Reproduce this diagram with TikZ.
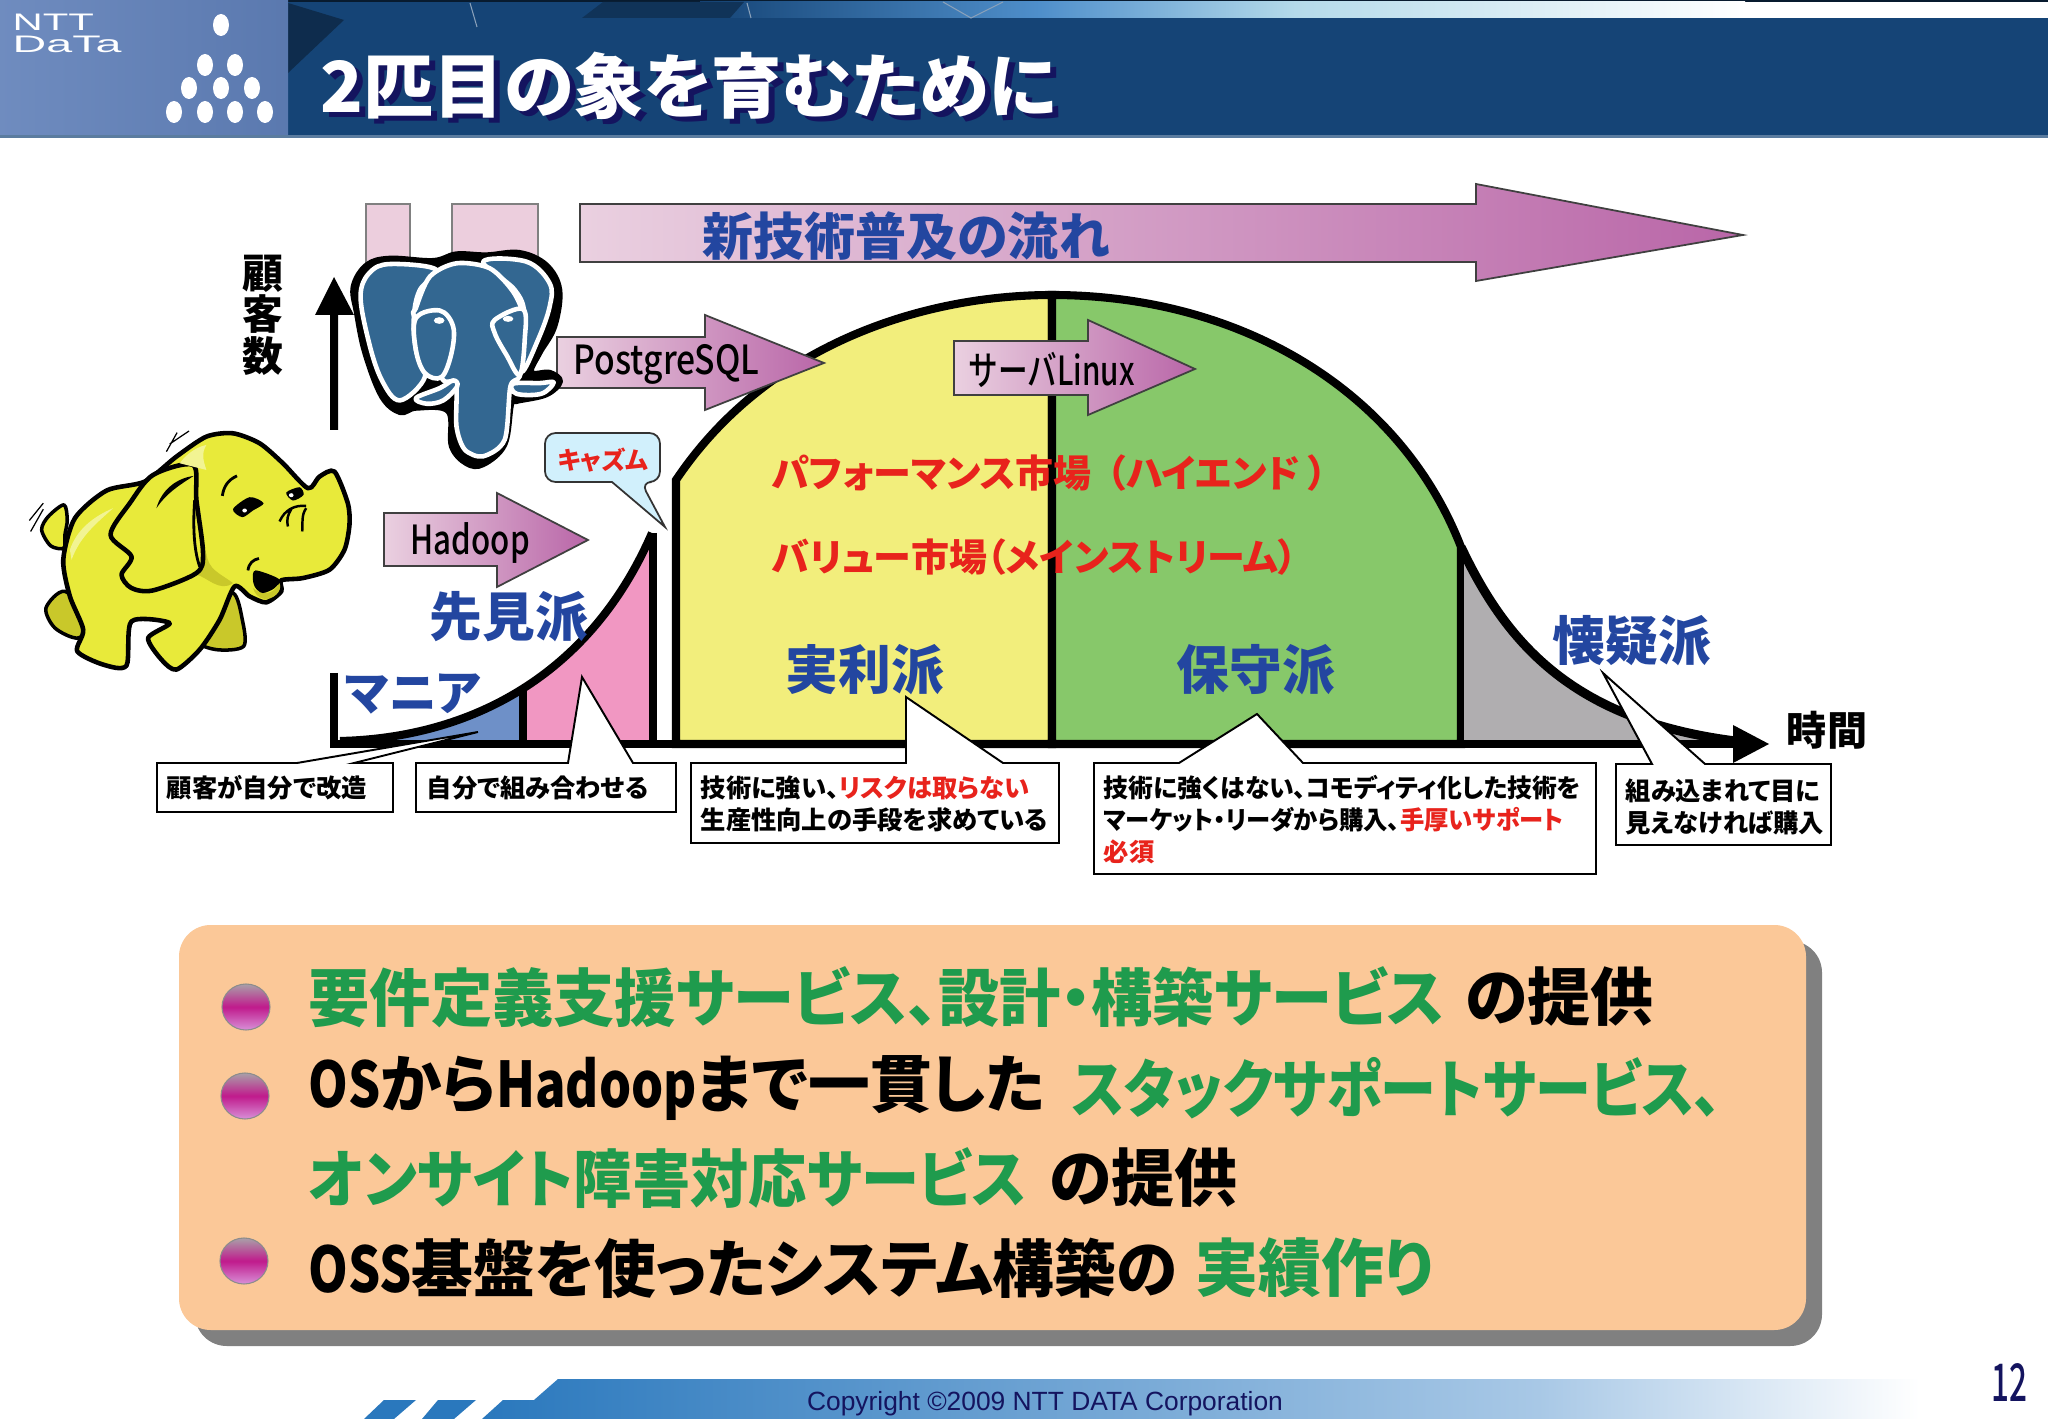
\documentclass[tikz,border=0pt]{standalone}
\usepackage{fontspec}
\setmainfont{Noto Sans CJK JP}[BoldFont={Noto Sans CJK JP Black},RawFeature=+palt]
\newfontfamily\latc{Noto Sans CJK JP Medium}[FakeStretch=0.84]
\newfontfamily\latb{Noto Sans CJK JP}[FakeStretch=0.82,BoldFont={Noto Sans CJK JP Black}]
\newfontfamily\arial{Liberation Sans}
\newcommand{\fsz}[1]{\fontsize{#1}{#1}\selectfont}
\definecolor{hdrblue}{HTML}{154476}
\definecolor{logoblue}{HTML}{5F7FB8}
\definecolor{navy}{HTML}{14145F}
\definecolor{labblue}{HTML}{2346A0}
\definecolor{redtxt}{HTML}{E8231C}
\definecolor{gtxt}{HTML}{1F9B4D}
\definecolor{pinkl}{HTML}{EAD0E0}
\definecolor{pinkd}{HTML}{B966A8}
\definecolor{yel}{HTML}{F2EE7C}
\definecolor{grn}{HTML}{87C86A}
\definecolor{gry}{HTML}{B0AEB0}
\definecolor{pnk}{HTML}{F197C2}
\definecolor{blu}{HTML}{6E90C8}
\definecolor{hyel}{HTML}{E8EA3A}
\definecolor{holive}{HTML}{C9C82A}
\definecolor{pgblue}{HTML}{336791}
\definecolor{orng}{HTML}{FBC898}
\definecolor{stripa}{HTML}{4F8FCB}
\definecolor{stripb}{HTML}{B4DAEA}
\definecolor{foota}{HTML}{2A78BD}
\definecolor{footb}{HTML}{A8C8E6}
\definecolor{balltop}{HTML}{A9A0A8}
\definecolor{ballmid}{HTML}{C01A8C}
\definecolor{ballbot}{HTML}{D890D8}
\tikzset{
	flowarrow/.style={draw=black!75,line width=0.5pt,left color=pinkl,right color=pinkd},
	region/.style={draw=black,line width=2.3pt,line join=miter},
	callout/.style={draw=black,fill=white,line width=0.55pt},
	calltext/.style={inner sep=0pt,anchor=north west,align=left,font=\bfseries\fontsize{7.2}{9.1}\selectfont},
	grouplabel/.style={inner sep=0pt,text=labblue,font=\bfseries\fsz{15}},
	markettext/.style={inner sep=0pt,anchor=west,text=redtxt,font=\bfseries\fsz{10.8}},
	itemtext/.style={inner sep=0pt,anchor=west,font=\bfseries\fsz{17.9}},
	bulletball/.style={top color=balltop,bottom color=ballbot,middle color=ballmid,draw=black!45,line width=0.3pt},
	logodot/.style={fill=white,draw=none},
	helepen/.style={draw=black,line width=1pt,line join=round},
	pgpen/.style={fill=pgblue,draw=white,line width=1.3pt,line join=round}
}
\begin{document}
\begin{tikzpicture}[x=0.01cm,y=-0.01cm]
	\useasboundingbox (0,0) rectangle (2048,1419);
	\fill[white] (0,0) rectangle (2048,1419);
	\fill[hdrblue] (0,0) rectangle (2048,137);
	\fill[black!60!hdrblue] (0,0) rectangle (2048,2);
	\fill[hdrblue!70!white] (0,135) rectangle (2048,138);
	\shade[left color=hdrblue,right color=stripa] (700,2) rectangle (1040,18);
	\shade[left color=stripa,right color=stripb] (1040,2) rectangle (1295,18);
	\shade[left color=stripb,right color=white] (1295,2) rectangle (1745,18);
	\fill[white] (1745,2) rectangle (2048,18);
	\fill[black!35!hdrblue] (288,3) -- (344,20) -- (288,73) -- cycle;
	\fill[black!25!hdrblue] (582,18) -- (603,2) -- (744,2) -- (730,18) -- cycle;
	\draw[white!50!hdrblue,line width=0.3pt] (470,3) -- (477,27) (747,3) -- (751,18) (943,2) -- (971,18) -- (1003,2);
	\shade[left color=logoblue!90!white,right color=logoblue!95!black] (0,0) rectangle (288,135);
	\node[inner sep=0pt,anchor=west,text=white] (logont) at (12,22) {\arial\fsz{6.8}\scalebox{1.75}[1]{NTT}};
	\node[inner sep=0pt,anchor=west,text=white] (logoda) at (12,44) {\arial\fsz{6.8}\scalebox{1.95}[1]{DaTa}};
	\foreach \dx/\dy in {221/25,205/65,235/65,189/88,221/88,252/88,174/112,205/112,235/112,265/112}
		\fill[logodot] (\dx,\dy) ellipse (8 and 11);
	\node[inner sep=0pt,anchor=west,text=navy,font=\bfseries\fsz{20}] (titleshade) at (326,91) {2匹目の象を育むために};
	\node[inner sep=0pt,anchor=west,text=white,font=\bfseries\fsz{20}] (titlet) at (320,86) {2匹目の象を育むために};

	\fill[pinkl!90!pink,draw=black!50,line width=0.3pt] (366,204) rectangle (410,262);
	\fill[pinkl!90!pink,draw=black!50,line width=0.3pt] (452,204) rectangle (538,262);
	\draw[flowarrow] (580,204) -- (1476,204) -- (1476,184) -- (1743,235) -- (1476,281) -- (1476,262) -- (580,262) -- cycle;
	\node[inner sep=0pt,text=labblue,font=\bfseries\fsz{14.5}] (flowt) at (906,236) {新技術普及の流れ};

	\node[inner sep=0pt,align=center,font=\bfseries\fontsize{11.6}{11.8}\selectfont] (yaxist) at (263,315) {顧\\客\\数};
	\fill[black] (334,277) -- (315,315) -- (330,315) -- (330,430) -- (338,430) -- (338,315) -- (354,315) -- cycle;

	\fill[blu] (340,741) .. controls (470,738) and (590,676) .. (652,533) -- (652,744) -- cycle;
	\fill[pnk] (523,687) .. controls (570,660) and (620,610) .. (652,533) -- (652,744) -- (523,744) -- cycle;
	\draw[black,line width=2.3pt] (340,741) .. controls (470,738) and (590,676) .. (652,533);
	\draw[black,line width=2.3pt] (334,673) -- (334,744);
	\draw[black,line width=2.3pt] (523,687) -- (523,744);
	\draw[black,line width=2.3pt] (653,533) -- (653,744);
	\draw[region,fill=yel] (676,744) -- (676,480) .. controls (770,340) and (930,295) .. (1052,295) -- (1052,744) -- cycle;
	\draw[region,fill=grn] (1052,744) -- (1052,295) .. controls (1240,295) and (1400,390) .. (1461,547) -- (1461,744) -- cycle;
	\fill[gry] (1461,547) .. controls (1505,640) and (1570,720) .. (1735,741) -- (1735,744) -- (1461,744) -- cycle;
	\draw[black,line width=1.8pt] (1461,547) -- (1461,744);
	\draw[black,line width=2.6pt] (1461,547) .. controls (1505,640) and (1570,720) .. (1735,741);
	\draw[black,line width=2.3pt] (330,744) -- (1740,744);
	\fill[black] (1733,725) -- (1769,744) -- (1733,763) -- cycle;

	\draw[flowarrow] (557,337) -- (705,337) -- (705,315) -- (824,363) -- (705,410) -- (705,388) -- (557,388) -- cycle;
	\node[inner sep=0pt,anchor=west,font=\latc\fsz{11.4}] (pgt) at (573,364) {PostgreSQL};
	\draw[flowarrow] (954,341) -- (1088,341) -- (1088,320) -- (1195,369) -- (1088,415) -- (1088,395) -- (954,395) -- cycle;
	\node[inner sep=0pt,anchor=west,font=\latc\fsz{11.4}] (linuxt) at (968,370) {\scalebox{0.88}[1]{サーバLinux}};
	\draw[flowarrow] (384,513) -- (497,513) -- (497,493) -- (588,540) -- (497,587) -- (497,566) -- (384,566) -- cycle;
	\node[inner sep=0pt,anchor=west,font=\latc\fsz{11.4}] (hadt) at (410,543) {\scalebox{0.93}[1]{Hadoop}};

	\draw[fill=cyan!18!white,draw=black!80,line width=0.5pt,rounded corners=3pt] (545,433) -- (660,433) -- (660,482) -- (641,482) [sharp corners] -- (665,527) -- (612,482) [rounded corners=3pt] -- (545,482) -- cycle;
	\node[inner sep=0pt,text=redtxt,font=\bfseries\fsz{7}] (chasmt) at (603,460) {キャズム};

	\node[grouplabel,font=\bfseries\fsz{13.6}] (maniat) at (413,694) {マニア};
	\node[grouplabel] (earlyt) at (509,617) {先見派};
	\node[grouplabel] (pragt) at (865,670) {実利派};
	\node[grouplabel] (consvt) at (1256,670) {保守派};
	\node[grouplabel] (skept) at (1632,641) {懐疑派};
	\node[inner sep=0pt,font=\bfseries\fsz{11.4}] (timet) at (1827,730) {時間};
	\node[markettext] (perft) at (771,473) {パフォーマンス市場\hspace{0.4em}（ハイエンド\hspace{0.2em}）};
	\node[markettext] (valuet) at (771,557) {バリュー市場（メインストリーム）};

	\draw[callout] (157,763) -- (297,763) -- (478,732) -- (354,763) -- (393,763) -- (393,812) -- (157,812) -- cycle;
	\node[calltext] (c1t) at (166,775) {顧客が自分で改造};
	\draw[callout] (416,763) -- (568,763) -- (582,677) -- (633,763) -- (676,763) -- (676,812) -- (416,812) -- cycle;
	\node[calltext] (c2t) at (426,775) {自分で組み合わせる};
	\draw[callout] (691,763) -- (906,763) -- (906,697) -- (1003,763) -- (1059,763) -- (1059,843) -- (691,843) -- cycle;
	\node[calltext] (c3t) at (700,775) {技術に強い、\textcolor{redtxt}{リスクは取らない}\\生産性向上の手段を求めている};
	\draw[callout] (1094,763) -- (1179,763) -- (1257,714) -- (1303,763) -- (1596,763) -- (1596,874) -- (1094,874) -- cycle;
	\node[calltext] (c4t) at (1103,775) {\scalebox{0.98}[1]{技術に強くはない、コモディティ化した技術を}\\\scalebox{0.96}[1]{マーケット・リーダから購入、\textcolor{redtxt}{手厚いサポート}}\\\textcolor{redtxt}{必須}};
	\draw[callout] (1616,764) -- (1652,764) -- (1603,673) -- (1705,764) -- (1831,764) -- (1831,845) -- (1616,845) -- cycle;
	\node[calltext] (c5t) at (1625,778) {組み込まれて目に\\見えなければ購入};

	\begin{scope}[shift={(340,240)},x=0.00333cm,y=-0.00333cm]
		\filldraw[black,line width=1.5pt,line join=round] plot[smooth cycle,tension=0.6] coordinates {(40,140) (80,75) (150,55) (280,62) (350,42) (440,45) (540,38) (620,75) (660,150) (645,260) (600,340) (575,398) (630,398) (662,425) (620,465) (530,485) (515,495) (495,615) (430,675) (380,672) (335,620) (325,515) (230,505) (180,518) (125,470) (75,340) (50,220)};
		\draw[pgpen] plot[smooth cycle,tension=0.6] coordinates {(62,160) (100,88) (170,72) (290,90) (240,150) (222,230) (228,330) (255,412) (180,482) (125,420) (85,300)};
		\draw[pgpen] plot[smooth cycle,tension=0.6] coordinates {(430,65) (560,65) (630,130) (630,200) (595,300) (545,395) (555,230) (525,150)};
		\draw[pgpen] plot[smooth cycle,tension=0.5] coordinates {(228,205) (270,110) (350,70) (450,85) (520,155) (552,230) (552,320) (540,410) (512,440) (495,600) (430,650) (375,630) (350,560) (348,430) (305,415) (225,235)};
		\draw[pgpen] plot[smooth cycle,tension=0.6] coordinates {(228,235) (300,212) (340,260) (335,340) (305,412) (255,400) (228,330)};
		\draw[pgpen] plot[smooth cycle,tension=0.6] coordinates {(465,240) (550,208) (555,300) (540,405) (500,345) (465,280)};
		\draw[pgpen] plot[smooth cycle,tension=0.6] coordinates {(228,475) (300,445) (340,422) (352,440) (310,482) (260,492)};
		\draw[pgpen] plot[smooth cycle,tension=0.6] coordinates {(520,432) (600,430) (642,428) (605,462) (530,462)};
		\fill[white] (298,242) ellipse (16 and 10);
		\fill[white] (505,237) ellipse (16 and 9);
	\end{scope}

	\begin{scope}[shift={(20,420)},x=0.00333cm,y=-0.00333cm]
		\draw[helepen,fill=holive] plot[smooth cycle,tension=0.5] coordinates {(135,515) (78,565) (105,625) (175,655) (220,600)};
		\draw[helepen,fill=holive] plot[smooth cycle,tension=0.5] coordinates {(640,520) (668,600) (672,680) (590,690) (530,660) (560,560)};
		\draw[helepen,fill=hyel] plot[smooth cycle,tension=0.5] coordinates {(132,385) (92,378) (65,330) (85,290) (132,255) (142,300) (135,345)};
		\draw[helepen,line width=1.3pt,fill=hyel] plot[smooth cycle,tension=0.45] coordinates {(130,420) (165,295) (260,212) (375,185) (470,110) (560,50) (640,40) (720,70) (790,130) (865,205) (900,170) (945,155) (985,250) (990,315) (975,390) (930,450) (850,475) (785,482) (785,515) (740,548) (690,530) (645,500) (600,600) (540,690) (470,750) (425,720) (385,655) (450,610) (335,605) (320,738) (250,735) (172,695) (190,630) (150,530)};
		\fill[holive] (560,400) .. controls (565,450) and (600,460) .. (640,490) .. controls (600,520) and (560,470) .. (530,465) -- cycle;
		\draw[helepen,line width=1.3pt,fill=hyel] plot[smooth cycle,tension=0.5] coordinates {(272,345) (330,250) (400,165) (520,135) (530,240) (550,400) (530,460) (400,512) (335,505) (305,465) (335,410)};
		\fill[white!45!hyel] (480,130) .. controls (510,90) and (540,80) .. (560,75) .. controls (545,100) and (550,120) .. (560,150) -- cycle;
		\fill[white!45!hyel] (150,390) .. controls (170,330) and (220,290) .. (280,265) .. controls (230,310) and (180,350) .. (155,420) -- cycle;
		\fill[holive] (700,505) .. controls (730,530) and (760,525) .. (780,490) .. controls (790,515) and (760,540) .. (735,538) .. controls (715,535) and (705,520) .. (700,505) -- cycle;
		\fill[black] plot[smooth cycle,tension=0.5] coordinates {(708,452) (778,478) (765,505) (730,520) (708,505) (700,480)};
		\fill[black] plot[smooth cycle,tension=0.5] coordinates {(640,268) (690,232) (732,250) (700,272) (668,292)};
		\fill[white] (675,272) ellipse (7 and 6);
		\fill[black] plot[smooth cycle,tension=0.5] coordinates {(800,218) (840,202) (852,225) (820,242)};
		\fill[white] (815,226) ellipse (7 and 6);
		\draw[black,line width=0.7pt] (860,258) .. controls (825,255) and (795,270) .. (780,305) (860,265) .. controls (845,285) and (850,310) .. (848,335) (815,268) .. controls (805,285) and (800,300) .. (805,320);
		\draw[black,line width=0.8pt] (608,228) .. controls (612,200) and (625,180) .. (652,168) (685,452) .. controls (688,430) and (700,420) .. (718,416);
		\fill[black] (410,265) .. controls (425,210) and (470,175) .. (522,168) .. controls (480,195) and (440,220) .. (410,265) -- cycle;
		\draw[black,line width=0.8pt] (525,240) .. controls (518,330) and (525,400) .. (540,440);
		\draw[black,line width=0.35pt] (440,95) -- (472,38) (450,72) -- (508,33) (28,302) -- (70,250) (32,335) -- (70,268);
	\end{scope}

	\fill[black!50,rounded corners=9pt] (195,941) rectangle (1822,1346);
	\fill[orng,rounded corners=9pt] (179,925) rectangle (1806,1330);
	\foreach \bx/\by in {246/1007,245/1096,244/1261}
		\shade[bulletball] (\bx,\by) ellipse (24 and 23);

	\node[itemtext,text=gtxt] (it1a) at (308,997) {\scalebox{0.973}[1]{要件定義支援サービス、設計・構築サービス}};
	\node[itemtext] (it1b) at (1465,997) {の提供};
	\node[itemtext] (it2a) at (308,1088) {\scalebox{0.98}[1]{\latb\bfseries OS\rmfamily\bfseries から\latb\bfseries Hadoop\rmfamily\bfseries まで一貫した}};
	\node[itemtext,text=gtxt] (it2b) at (1071,1088) {\scalebox{0.89}[1]{スタックサポートサービス、}};
	\node[itemtext,text=gtxt] (it3a) at (308,1178) {\scalebox{0.925}[1]{オンサイト障害対応サービス}};
	\node[itemtext] (it3b) at (1049,1178) {の提供};
	\node[itemtext] (it4a) at (308,1268) {\scalebox{0.98}[1]{\latb\bfseries OSS\rmfamily\bfseries 基盤を使ったシステム構築の}};
	\node[itemtext,text=gtxt] (it4b) at (1195,1268) {実績作り};

	\shade[left color=foota,right color=footb] (558,1379) -- (1538,1379) -- (1538,1419) -- (482,1419) -- (503,1400) -- (534,1400) -- cycle;
	\shade[left color=footb,right color=white] (1538,1379) rectangle (1920,1419);
	\fill[foota] (438,1400) -- (476,1400) -- (454,1419) -- (422,1419) -- cycle;
	\fill[foota] (384,1400) -- (416,1400) -- (394,1419) -- (364,1419) -- cycle;
	\node[inner sep=0pt,text=navy,font=\arial\fsz{7.5}] (copyt) at (1045,1404) {Copyright ©2009 NTT DATA Corporation};
	\node[inner sep=0pt,text=navy,font=\latc\fsz{14.8}] (paget) at (2009,1382) {\scalebox{0.72}[1]{12}};
\end{tikzpicture}
\end{document}
